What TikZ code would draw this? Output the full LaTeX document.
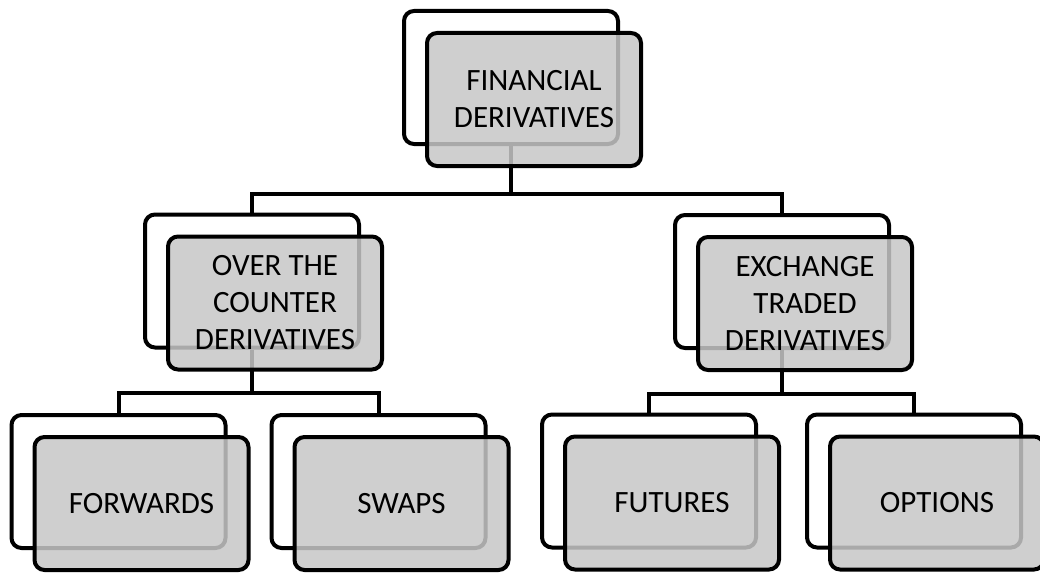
\documentclass[tikz,border=0pt]{standalone}
\usepackage{fontspec}
\setmainfont{Carlito}
\begin{document}
\begin{tikzpicture}[x=1pt, y=-1pt,
    back/.style={draw, line width=4, rounded corners=10, fill=white,
      minimum width=214, minimum height=133},
    front/.style={back, fill=black!22, fill opacity=0.85, text opacity=1,
      align=center, font=\fontsize{31}{37}\selectfont, xshift=23, yshift=-22},
    link/.style={line width=4}]
    \useasboundingbox (0,0) rectangle (1040,575);
    \clip (0,0) rectangle (1040,575);

    % white cards behind
    \node[back] (fin) at (511,77.5) {};
    \node[back] (otc) at (252,281) {};
    \node[back] (etd) at (782,281.5) {};
    \node[back] (fwd) at (118.5,481.5) {};
    \node[back] (swp) at (378.5,481.5) {};
    \node[back] (fut) at (649,481) {};
    \node[back] (opt) at (914,481) {};

    \draw[link]
      (fin.south) -- ++(0,48) -| (otc.north)
      (fin.south) ++(0,48) -| (etd.north)
      (otc.south) -- ++(0,43) -| (fwd.north)
      (otc.south) ++(0,43) -| (swp.north)
      (etd.south) -- ++(0,44) -| (fut.north)
      (etd.south) ++(0,44) -| (opt.north)
    ;

    % grey cards with the labels
    \node[front] (fin-t) at (fin) {FINANCIAL\\DERIVATIVES};
    \node[front] (otc-t) at (otc) {OVER THE\\COUNTER\\DERIVATIVES};
    \node[front] (etd-t) at (etd) {EXCHANGE\\TRADED\\DERIVATIVES};
    \foreach \card/\name in {fwd/FORWARDS, swp/SWAPS, fut/FUTURES, opt/OPTIONS} {
      \node[front] (\card-t) at (\card) {\name};
    }
  \end{tikzpicture}
\end{document}
